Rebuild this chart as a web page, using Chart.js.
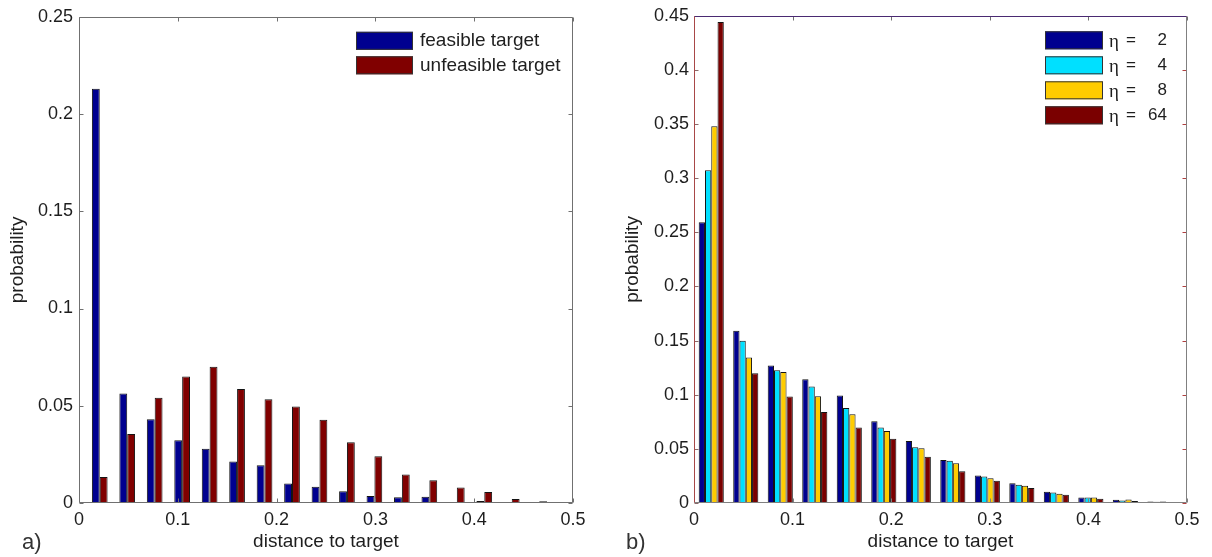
<!DOCTYPE html>
<html>
<head>
<meta charset="utf-8">
<script src="https://cdn.jsdelivr.net/npm/chart.js@4.4.1/dist/chart.umd.min.js"></script>
<style>
  html, body { margin: 0; padding: 0; background: #fff; }
  #page { position: relative; width: 1212px; height: 557px; overflow: hidden; font-family: "Liberation Sans", Arial, sans-serif; }
  .panel { position: absolute; top: 0; width: 606px; height: 557px; }
  .tag { position: absolute; font-size: 22px; line-height: 22px; color: #333; }
</style>
</head>
<body>
<div id="page">
  <div class="panel" style="left:0"><canvas id="chartA"></canvas></div>
  <div class="panel" style="left:606px"><canvas id="chartB"></canvas></div>
  <div class="tag" style="left:22px;top:531px">a)</div>
  <div class="tag" style="left:626px;top:531px">b)</div>
</div>
<script>
// ---- panel a: distance histogram, feasible vs unfeasible target ----
const binCentersA = [0.0210, 0.0488, 0.0766, 0.1044, 0.1322, 0.1600, 0.1878, 0.2156, 0.2434,
                     0.2712, 0.2990, 0.3268, 0.3546, 0.3824, 0.4102, 0.4380, 0.4658, 0.4936];
const feasibleTarget   = [0.2130, 0.0563, 0.0430, 0.0323, 0.0279, 0.0214, 0.0194, 0.0100, 0.0083,
                          0.0061, 0.0036, 0.0029, 0.0032, 0.0003, 0.0010, 0.0003, 0.0003, 0.0002];
const unfeasibleTarget = [0.0134, 0.0355, 0.0541, 0.0651, 0.0700, 0.0586, 0.0534, 0.0496, 0.0428,
                          0.0313, 0.0241, 0.0146, 0.0117, 0.0080, 0.0056, 0.0021, 0.0009, 0.0002];
const seriesNamesA = ['feasible target', 'unfeasible target'];

// ---- panel b: distance histogram for several eta values ----
const binCentersB = [0.0175, 0.0525, 0.0875, 0.1225, 0.1575, 0.1925, 0.2275,
                     0.2625, 0.2975, 0.3325, 0.3675, 0.4025, 0.4375, 0.4725];
const eta2  = [0.2593, 0.1590, 0.1269, 0.1143, 0.0994, 0.0755, 0.0572, 0.0397, 0.0253, 0.0183, 0.0104, 0.0051, 0.0030, 0.0015];
const eta4  = [0.3073, 0.1498, 0.1226, 0.1076, 0.0877, 0.0697, 0.0514, 0.0391, 0.0244, 0.0168, 0.0097, 0.0051, 0.0024, 0.0012];
const eta8  = [0.3480, 0.1345, 0.1211, 0.0987, 0.0819, 0.0666, 0.0505, 0.0367, 0.0229, 0.0159, 0.0085, 0.0051, 0.0033, 0.0015];
const eta64 = [0.4443, 0.1198, 0.0984, 0.0840, 0.0697, 0.0593, 0.0428, 0.0294, 0.0205, 0.0138, 0.0076, 0.0040, 0.0018, 0.0006];
const etaValues = [2, 4, 8, 64];

// ---- ticks ----
const xTickValues = [0, 0.1, 0.2, 0.3, 0.4, 0.5];
const xTickLabels = ['0', '0.1', '0.2', '0.3', '0.4', '0.5'];
const yTickValuesA = [0, 0.05, 0.1, 0.15, 0.2, 0.25];
const yTickLabelsA = ['0', '0.05', '0.1', '0.15', '0.2', '0.25'];
const yTickValuesB = [0, 0.05, 0.1, 0.15, 0.2, 0.25, 0.3, 0.35, 0.4, 0.45];
const yTickLabelsB = ['0', '0.05', '0.1', '0.15', '0.2', '0.25', '0.3', '0.35', '0.4', '0.45'];

const SANS = '"Liberation Sans", Arial, sans-serif';
const SERIF = '"Liberation Serif", "Times New Roman", serif';
const TEXT = '#1e1e1e';

// Box frame with inward tick marks on all four sides
const framePlugin = {
  id: 'frame',
  afterDraw(chart, args, o) {
    const { ctx, chartArea: a } = chart;
    const xs = chart.scales.x, ys = chart.scales.y;
    const L = o.tickLength;
    const l = Math.round(a.left) + 0.5, r = Math.round(a.right) - 0.5;
    const t = Math.round(a.top) + 0.5, b = Math.round(a.bottom) - 0.5;
    ctx.save();
    ctx.lineWidth = 1;
    const seg = (x1, y1, x2, y2, c) => {
      ctx.strokeStyle = c; ctx.beginPath(); ctx.moveTo(x1, y1); ctx.lineTo(x2, y2); ctx.stroke();
    };
    xs.ticks.forEach(tk => {
      const px = Math.round(xs.getPixelForValue(tk.value)) + 0.5;
      seg(px, b, px, b - L, o.bottomTick);
      seg(px, t, px, t + L, o.topTick);
    });
    ys.ticks.forEach(tk => {
      const py = Math.round(ys.getPixelForValue(tk.value)) + 0.5;
      seg(l, py, l + L, py, o.leftTick);
      seg(r, py, r - L, py, o.rightTick);
    });
    seg(l, b, r, b, o.bottom);
    seg(r, t, r, b, o.right);
    seg(l, t, r, t, o.top);
    seg(l, t, l, b, o.left);
    ctx.restore();
  }
};

// Legend drawn inside the plot area, upper right
const boxLegendPlugin = {
  id: 'boxLegend',
  afterDraw(chart, args, o) {
    const { ctx, chartArea: a } = chart;
    const x0 = a.right - o.fromRight;
    ctx.save();
    chart.data.datasets.forEach((ds, i) => {
      const y0 = a.top + o.fromTop + i * o.rowStep;
      ctx.fillStyle = ds.backgroundColor;
      ctx.fillRect(x0, y0, o.boxW, o.boxH);
      ctx.strokeStyle = '#333';
      ctx.lineWidth = 1;
      ctx.strokeRect(x0 + 0.5, y0 + 0.5, o.boxW - 1, o.boxH - 1);
      const cy = y0 + o.boxH / 2;
      const tx = x0 + o.boxW + o.gap;
      ctx.fillStyle = TEXT;
      ctx.textBaseline = 'middle';
      if (o.eta) {
        ctx.textAlign = 'left';
        ctx.font = `${o.fontSize + 2}px ${SERIF}`;
        ctx.fillText('η', tx, cy + 2);
        ctx.font = `${o.fontSize}px ${SANS}`;
        ctx.fillText('=', tx + 17, cy);
        ctx.textAlign = 'right';
        ctx.fillText(String(etaValues[i]), tx + 58, cy);
      } else {
        ctx.textAlign = 'left';
        ctx.font = `${o.fontSize}px ${SANS}`;
        ctx.fillText(ds.label, tx, cy);
      }
    });
    ctx.restore();
  }
};

function barSet(label, centers, values, color) {
  return {
    label,
    data: centers.map((c, i) => ({ x: c, y: values[i] })),
    backgroundColor: color,
    borderColor: '#141414',
    borderWidth: 1,
    borderSkipped: false
  };
}

function buildOptions(cfg) {
  return {
    responsive: true,
    maintainAspectRatio: false,
    animation: false,
    events: [],
    layout: { padding: { left: 0, top: 13, right: cfg.padRight, bottom: 0 } },
    datasets: { bar: { categoryPercentage: cfg.groupWidth, barPercentage: 1 } },
    plugins: {
      legend: { display: false },
      tooltip: { enabled: false },
      frame: cfg.frame,
      boxLegend: cfg.legend
    },
    scales: {
      x: {
        type: 'linear', min: 0, max: 0.5, offset: false,
        grid: { display: false, offset: false, drawTicks: false },
        border: { display: false },
        afterBuildTicks: s => { s.ticks = xTickValues.map(v => ({ value: v })); },
        afterFit: s => { s.height = 54; },
        ticks: {
          padding: 6, color: TEXT, maxRotation: 0, autoSkip: false,
          font: { family: SANS, size: 18 },
          callback: (v, i) => xTickLabels[i]
        },
        title: {
          display: true, text: 'distance to target', color: TEXT,
          font: { family: SANS, size: 19 }, padding: { top: 0, bottom: 4 }
        }
      },
      y: {
        type: 'linear', min: 0, max: cfg.yMax,
        grid: { display: false, drawTicks: false },
        border: { display: false },
        afterBuildTicks: s => { s.ticks = cfg.yTickValues.map(v => ({ value: v })); },
        afterFit: s => { s.width = cfg.yWidth; },
        ticks: {
          padding: cfg.yTickPad, color: TEXT, autoSkip: false,
          font: { family: SANS, size: 18 },
          callback: (v, i) => cfg.yTickLabels[i]
        },
        title: {
          display: true, text: 'probability', color: TEXT,
          font: { family: SANS, size: 19 }, padding: { top: cfg.yTitlePad, bottom: 0 }
        }
      }
    }
  };
}

new Chart(document.getElementById('chartA'), {
  type: 'bar',
  data: {
    datasets: [
      barSet(seriesNamesA[0], binCentersA, feasibleTarget, '#00008f'),
      barSet(seriesNamesA[1], binCentersA, unfeasibleTarget, '#800000')
    ]
  },
  options: buildOptions({
    padRight: 33, yWidth: 79, yTickPad: 6, yTitlePad: 6, yMax: 0.25, groupWidth: 2 / 3.5,
    yTickValues: yTickValuesA, yTickLabels: yTickLabelsA,
    frame: {
      tickLength: 4,
      left: '#707070', right: '#707070', top: '#707070', bottom: '#707070',
      leftTick: '#707070', rightTick: '#707070', topTick: '#707070', bottomTick: '#707070'
    },
    legend: { fromRight: 217, fromTop: 15, rowStep: 24.5, boxW: 57, boxH: 18, gap: 7, fontSize: 19, eta: false }
  }),
  plugins: [framePlugin, boxLegendPlugin]
});

new Chart(document.getElementById('chartB'), {
  type: 'bar',
  data: {
    datasets: [
      barSet('η = 2', binCentersB, eta2, '#00008f'),
      barSet('η = 4', binCentersB, eta4, '#00e0ff'),
      barSet('η = 8', binCentersB, eta8, '#ffcc00'),
      barSet('η = 64', binCentersB, eta64, '#7a0000')
    ]
  },
  options: buildOptions({
    padRight: 25, yWidth: 88, yTickPad: 5, yTitlePad: 15, yMax: 0.45, groupWidth: 4 / 5.5,
    yTickValues: yTickValuesB, yTickLabels: yTickLabelsB,
    frame: {
      tickLength: 4,
      left: '#a84848', right: '#808080', top: '#4a2a72', bottom: '#808080',
      leftTick: '#8a6a6a', rightTick: '#b04040', topTick: '#707070', bottomTick: '#808080'
    },
    legend: { fromRight: 142, fromTop: 15.5, rowStep: 25, boxW: 58, boxH: 18, gap: 6, fontSize: 17, eta: true }
  }),
  plugins: [framePlugin, boxLegendPlugin]
});
</script>
</body>
</html>
